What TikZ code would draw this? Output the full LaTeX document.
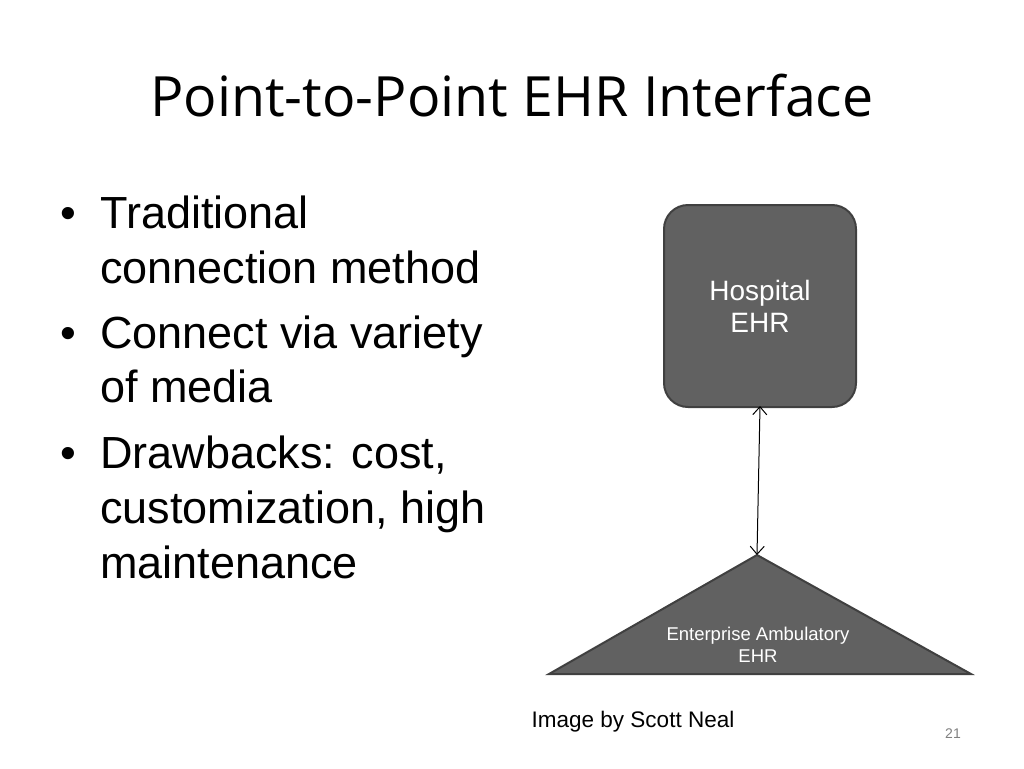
\documentclass[tikz,border=0pt]{standalone}
\usepackage{fontspec}
\setmainfont{Liberation Sans}
\newfontfamily\titlefont{Open Sans}
\usetikzlibrary{arrows.meta}
\begin{document}
\begin{tikzpicture}[x=1pt,y=-1pt,
  bul/.style={anchor=base west,font=\fontsize{45}{50}\selectfont,inner sep=0},
  shp/.style={fill=black!62,draw=black!75,line width=2pt}]
\useasboundingbox (0,0) rectangle (1024,768);
\node[anchor=base west,inner sep=0,font=\titlefont\fontsize{55.5}{60}\selectfont] (t) at (150,116) {Point-to-Point EHR Interface};
\node[bul] (b1) at (60,228) {•};
\node[bul] (l1) at (100,228) {Traditional};
\node[bul] (l2) at (100,283) {connection method};
\node[bul] (b2) at (60,348) {•};
\node[bul] (l3) at (100,348) {Connect via variety};
\node[bul] (l4) at (100,402) {of media};
\node[bul] (b3) at (60,468) {•};
\node[bul] (l5) at (100,468) {Drawbacks: cost,};
\node[bul] (l6) at (100,523) {customization, high};
\node[bul] (l7) at (100,578) {maintenance};
\node[shp,rounded corners=24pt,minimum width=192pt,minimum height=202pt,text=white,align=center,font=\fontsize{28}{32}\selectfont] (h) at (760,306) {Hospital\\EHR};
\coordinate (apex) at (757,555);
\draw[shp] (apex) -- (971,674) -- (549,674) -- cycle;
\node[text=white,align=center,font=\fontsize{18.5}{22}\selectfont] (e) at (758,645) {Enterprise Ambulatory\\EHR};
\draw[{Straight Barb[length=8pt,width=14pt]}-{Straight Barb[length=8pt,width=14pt]},line width=1pt] ([yshift=2pt]h.south) -- (apex);
\node[font=\fontsize{22.5}{26}\selectfont] (c) at (633,722) {Image by Scott Neal};
\node[font=\fontsize{14}{16}\selectfont,text=black!50] (n) at (953,734) {21};
\end{tikzpicture}
\end{document}
